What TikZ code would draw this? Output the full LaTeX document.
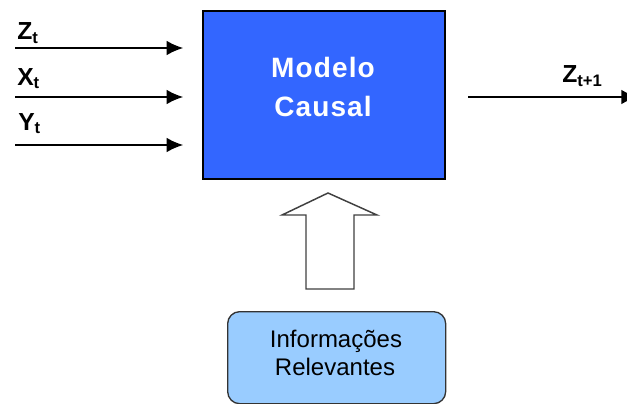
\documentclass[tikz,border=0pt]{standalone}
\usepackage{fontspec}
\setmainfont{Liberation Sans}
\usetikzlibrary{arrows.meta}
\definecolor{boxblue}{HTML}{3366FF}
\definecolor{infoblue}{HTML}{99CCFF}
\tikzset{
  inarrow/.style={line width=1.5pt,-{Latex[length=12.5pt,width=11pt]}},
  lbl/.style={anchor=base west,inner sep=0pt,font=\fontsize{18.5}{20}\selectfont\bfseries},
  title/.style={anchor=base,inner sep=0pt,text=white,font=\fontsize{21}{21}\selectfont\bfseries},
  infotext/.style={anchor=base,inner sep=0pt,font=\fontsize{18}{18}\selectfont},
}
\newcommand{\mysub}[1]{\textsubscript{\fontsize{12.5}{12}\selectfont #1}}
\begin{document}
\begin{tikzpicture}[x=0.75pt,y=-0.75pt]
\useasboundingbox (0,0) rectangle (627,403);
\clip (0,0) rectangle (627,403);
% main box
\node[draw=black,line width=1.2pt,fill=boxblue,minimum width=242*0.75pt,minimum height=168*0.75pt,anchor=north west,inner sep=0pt] (box) at (202,10) {};
\node[title] (m1) at (323,78) {\addfontfeature{LetterSpace=4}Modelo};
\node[title] (m2) at (323,116) {\addfontfeature{LetterSpace=4}Causal};
% info box
\node[draw=black!80,line width=1pt,fill=infoblue,rounded corners=9pt,minimum width=218*0.75pt,minimum height=92*0.75pt,anchor=north west,inner sep=0pt] (info) at (227,311) {};
\node[infotext] (i1) at (336,347) {Informações};
\node[infotext] (i2) at (335,375) {Relevantes};
% input arrows
\coordinate (zs) at (15,48);
\coordinate (xs) at (15,97);
\coordinate (ys) at (15,145);
\draw[inarrow,shorten >=14pt] (zs) -- (zs -| box.west);
\draw[inarrow,shorten >=14pt] (xs) -- (xs -| box.west);
\draw[inarrow,shorten >=14pt] (ys) -- (ys -| box.west);
\node[lbl] (zl) at (17,40) {Z\mysub{t}};
\node[lbl] (xl) at (17,85) {X\mysub{t}};
\node[lbl] (yl) at (18,130) {Y\mysub{t}};
% output arrow
\coordinate (oe) at (638,97);
\draw[inarrow,shorten <=17pt] (oe -| box.east) -- (oe);
\node[lbl] (zo) at (562,83) {Z\mysub{t+1}};
% block arrow
\draw[line width=1.1pt,draw=black!75,fill=white,line join=miter]
  (306,289) -- (306,215) -- (282,215) -- (328,193) -- (377,215) -- (354,215) -- (354,289) -- cycle;
\end{tikzpicture}
\end{document}
